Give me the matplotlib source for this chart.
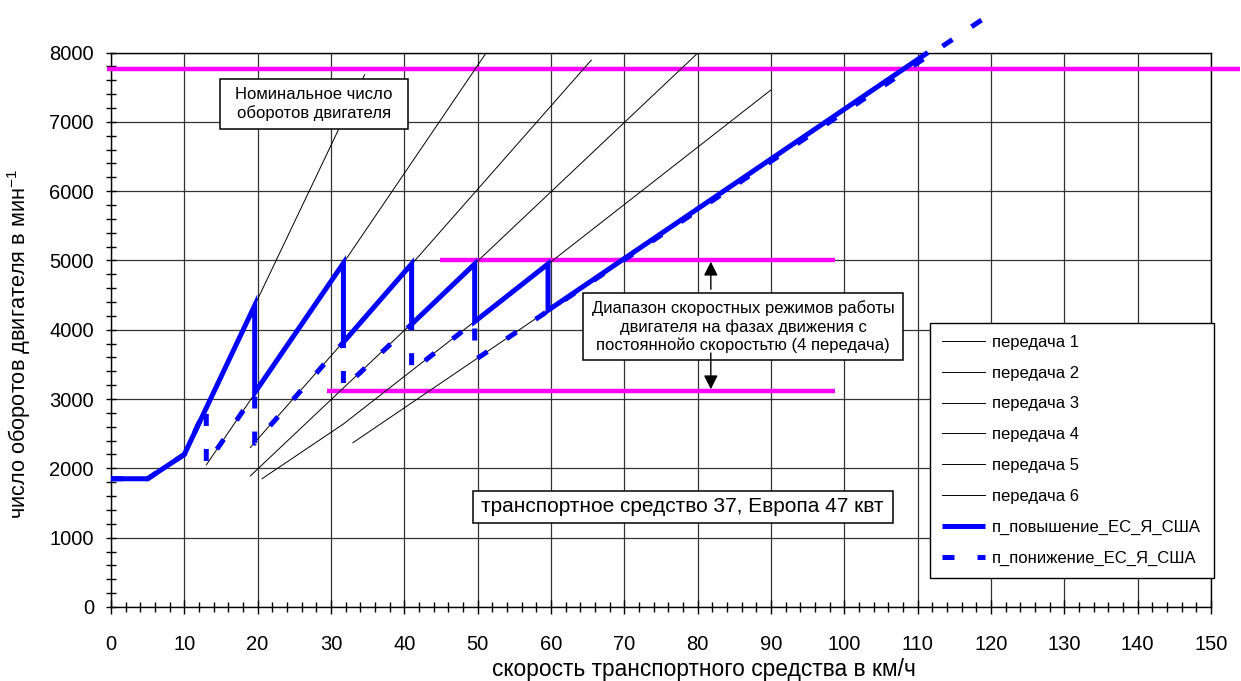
import matplotlib
matplotlib.use('Agg')
import matplotlib.pyplot as plt
from matplotlib.patches import Rectangle
from matplotlib.ticker import MultipleLocator

plt.rcParams['font.family'] = ['Liberation Sans', 'DejaVu Sans']
plt.rcParams['mathtext.fontset'] = 'custom'
plt.rcParams['mathtext.rm'] = 'Liberation Sans'
plt.rcParams['mathtext.it'] = 'Liberation Sans:italic'
plt.rcParams['mathtext.bf'] = 'Liberation Sans:bold'

# ---------------- data ----------------
gear_labels = ['передача 1', 'передача 2', 'передача 3',
               'передача 4', 'передача 5', 'передача 6']
gear1_v = [10.0, 34.6]
gear1_n = [2220, 7680]
gear2_v = [13.0, 51.2]
gear2_n = [2049, 8000]
gear3_v = [19.0, 65.5]
gear3_n = [2300, 7890]
gear4_v = [19.0, 80.1]
gear4_n = [1890, 8000]
gear5_v = [20.6, 31.7, 90.0]
gear5_n = [1850, 2640, 7460]
gear6_v = [33.0, 111.4]
gear6_n = [2370, 8000]

up_label = 'п_повышение_ЕС_Я_США'
up_v = [0, 5, 10, 19.6, 19.6, 31.7, 31.7, 41.0, 41.0, 49.6, 49.6, 59.6, 59.6, 111.4]
up_n = [1850, 1850, 2200, 4350, 3090, 4960, 3820, 4950, 4080, 4950, 4117, 4950, 4280, 8000]

down_label = 'п_понижение_ЕС_Я_США'
down_v = [0, 5, 10, 13.0, 13.0, 19.6, 19.6, 31.7, 31.7, 41.0, 41.0, 49.6, 49.6, 120.0]
down_n = [1850, 1850, 2200, 2886, 2049, 3077, 2362, 3820, 3154, 4080, 3403, 4117, 3561, 8560]

nominal_rpm = 7763
nominal_v = [-0.5, 154.0]
range_high_rpm = 5000
range_high_v = [44.9, 98.7]
range_low_rpm = 3120
range_low_v = [29.4, 98.7]

x_label = 'скорость транспортного средства в км/ч'
y_label = 'число оборотов двигателя в мин$^{-1}$'
note_nominal = 'Номинальное число\nоборотов двигателя'
note_range = ('Диапазон скоростных режимов работы\n'
              'двигателя на фазах движения с\n'
              'постояннойо скоростьтю (4 передача)')
note_vehicle = 'транспортное средство 37, Европа 47 квт'

# ---------------- figure ----------------
fig = plt.figure(figsize=(12.41, 6.81), dpi=100)
ax = fig.add_axes([0.0894, 0.1087, 0.8864, 0.8142])
ax.set_xlim(0, 150)
ax.set_ylim(0, 8000)

ax.grid(True, which='major', color='#333333', lw=0.9)
ax.set_axisbelow(True)
for s in ax.spines.values():
    s.set_linewidth(1.0)
    s.set_color('black')

magenta = '#FF00FF'
blue = '#0000FF'
ax.plot(nominal_v, [nominal_rpm] * 2, color=magenta, lw=3.2, clip_on=False,
        solid_capstyle='butt', zorder=3)
ax.plot(range_high_v, [range_high_rpm] * 2, color=magenta, lw=3.2,
        solid_capstyle='butt', zorder=3)
ax.plot(range_low_v, [range_low_rpm] * 2, color=magenta, lw=3.2,
        solid_capstyle='butt', zorder=3)

gears = [(gear1_v, gear1_n), (gear2_v, gear2_n), (gear3_v, gear3_n),
         (gear4_v, gear4_n), (gear5_v, gear5_n), (gear6_v, gear6_n)]
for (gv, gn), lab in zip(gears, gear_labels):
    ax.plot(gv, gn, color='black', lw=0.7, label=lab, zorder=4)

ax.plot(up_v, up_n, color=blue, lw=3.6, label=up_label, zorder=5,
        solid_joinstyle='miter', solid_capstyle='butt', clip_on=False)
ax.plot(down_v, down_n, color=blue, lw=3.6, ls=(0, (2.4, 4.6)),
        dash_capstyle='butt', label=down_label, zorder=6, clip_on=False)

# ticks
ax.xaxis.set_major_locator(MultipleLocator(10))
ax.xaxis.set_minor_locator(MultipleLocator(2))
ax.yaxis.set_major_locator(MultipleLocator(1000))
ax.yaxis.set_minor_locator(MultipleLocator(200))
ax.tick_params(axis='x', which='major', direction='inout', length=9.4,
               width=1, pad=15.5, labelsize=14.5)
ax.tick_params(axis='x', which='minor', direction='inout', length=7, width=1)
ax.tick_params(axis='y', which='major', direction='inout', length=6.5,
               width=1, pad=9, labelsize=14.5)
ax.tick_params(axis='y', which='minor', direction='inout', length=6.5, width=1)

ax.set_xlabel(x_label, fontsize=16.4)
ax.xaxis.set_label_coords(0.5395, -0.092)
ax.set_ylabel(y_label, fontsize=15.7)
ax.yaxis.set_label_coords(-0.0709, 0.474)

# legend
leg = ax.legend(loc='upper left', bbox_to_anchor=(0.7445, 0.512, 0.2582, 0.0),
                mode='expand', fontsize=12,
                labelspacing=0.95, handlelength=2.6, handletextpad=0.4,
                borderpad=0.7, frameon=True, fancybox=False,
                edgecolor='black', framealpha=1, borderaxespad=0)
leg.get_frame().set_linewidth(1.0)
leg.set_zorder(10)

# annotation boxes
def note_box(x0, y0, w, h, text, fs, ls):
    ax.add_patch(Rectangle((x0, y0), w, h, transform=ax.transAxes,
                           fc='white', ec='black', lw=1.1, zorder=7))
    ax.text(x0 + w / 2, y0 + h / 2, text, transform=ax.transAxes,
            ha='center', va='center', fontsize=fs, linespacing=ls, zorder=8)

note_box(0.0991, 0.862, 0.1709, 0.0897, note_nominal, 12.0, 1.25)
note_box(0.4294, 0.4454, 0.2903, 0.1203, note_range, 12.0, 1.25)
note_box(0.3288, 0.151, 0.3818, 0.0587, note_vehicle, 15.0, 1.0)

arrow_v = 81.8
aprops = dict(arrowstyle='-|>,head_length=0.6,head_width=0.3', color='black',
              lw=1.0, shrinkA=0, shrinkB=0, mutation_scale=14)
ax.annotate('', xy=(arrow_v, 4982), xytext=(arrow_v, 4584),
            arrowprops=aprops, zorder=9)
ax.annotate('', xy=(arrow_v, 3141), xytext=(arrow_v, 3665),
            arrowprops=aprops, zorder=9)

fig.savefig('out.png', dpi=100)
